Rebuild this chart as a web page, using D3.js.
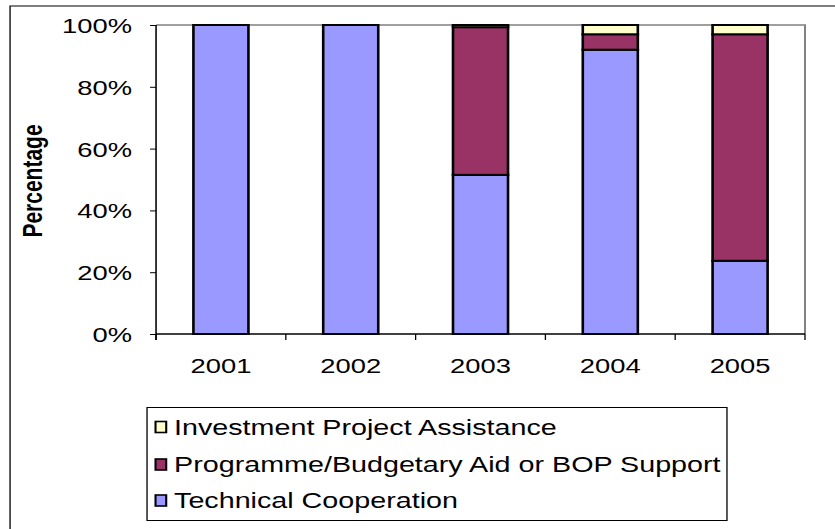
<!DOCTYPE html>
<html>
<head>
<meta charset="utf-8">
<script src="https://cdn.jsdelivr.net/npm/d3@7/dist/d3.min.js"></script>
<style>
  html, body { margin: 0; padding: 0; background: #fff; }
  svg { display: block; font-family: "Liberation Sans", Arial, sans-serif; }
</style>
</head>
<body>
<svg id="chart" width="835" height="529"></svg>
<script>
// Aid modality shares by year (percent of total)
const years = ["2001", "2002", "2003", "2004", "2005"];
const technicalCooperation = [100, 100, 51.5, 92, 23.7];
const programmeAid = [0, 0, 47.8, 5, 73.3];
const investmentProject = [0, 0, 0.7, 3, 3];
const yTicks = [0, 20, 40, 60, 80, 100];

const seriesNames = ["Technical Cooperation", "Programme/Budgetary Aid or BOP Support", "Investment Project Assistance"];
const seriesColors = ["#9999FF", "#993366", "#FFFFCC"];

const rows = years.map((y, i) => ({
  year: y,
  tc: technicalCooperation[i],
  prog: programmeAid[i],
  ipa: investmentProject[i]
}));
const keys = ["tc", "prog", "ipa"];

// The chart is laid out on a 640-wide canvas and stretched to the 835px window
const W = 835, H = 529, baseW = 640, sx = W / baseW;
const svg = d3.select("#chart");
const g = svg.append("g").attr("transform", `scale(${sx},1)`);

// outer chart frame
g.append("rect")
  .attr("x", 7.7).attr("y", 6)
  .attr("width", 700).attr("height", 600)
  .attr("fill", "#fff").attr("stroke", "#000").attr("stroke-width", 1);

const plot = { left: 119.6, right: 617, top: 25, bottom: 334 };

const x = d3.scaleBand()
  .domain(years)
  .range([plot.left, plot.right])
  .paddingInner(0.576)
  .paddingOuter(0.288);

const y = d3.scaleLinear().domain([0, 100]).range([plot.bottom, plot.top]);

// plot area border: top and right in grey
g.append("path")
  .attr("d", `M${plot.left},${plot.top}H${plot.right}V${plot.bottom}`)
  .attr("fill", "none").attr("stroke", "#808080").attr("stroke-width", 1.5);

// stacked bars
const stack = d3.stack().keys(keys)(rows);
g.append("g").selectAll("g")
  .data(stack)
  .join("g")
  .attr("fill", (d, i) => seriesColors[i])
  .selectAll("rect")
  .data(d => d.filter(s => s[1] - s[0] > 0))
  .join("rect")
  .attr("x", d => x(d.data.year))
  .attr("width", x.bandwidth())
  .attr("y", d => y(d[1]))
  .attr("height", d => y(d[0]) - y(d[1]))
  .attr("stroke", "#000")
  .attr("stroke-width", 2);

// y axis
const yAxis = g.append("g")
  .attr("transform", `translate(${plot.left},0)`)
  .call(d3.axisLeft(y).tickValues(yTicks).tickFormat(d => d + "%").tickSize(4.6).tickPadding(13.8));
yAxis.select(".domain").attr("stroke", "#000").attr("stroke-width", 1.2)
  .attr("d", `M0,${plot.top}V${plot.bottom + 6}`);
yAxis.selectAll(".tick line").attr("stroke", "#000").attr("stroke-width", 1);
yAxis.selectAll(".tick text")
  .attr("font-size", 21).attr("fill", "#000")
  .attr("font-family", "Liberation Sans, Arial, sans-serif")
  .attr("dy", "0.36em");

// x axis: line, category boundary ticks, labels
const xg = g.append("g");
xg.append("line")
  .attr("x1", plot.left).attr("x2", plot.right)
  .attr("y1", plot.bottom).attr("y2", plot.bottom)
  .attr("stroke", "#000").attr("stroke-width", 1.5);
const boundaries = years.map(d => x(d) + x.bandwidth() / 2 - x.step() / 2)
  .concat([x(years[years.length - 1]) + x.bandwidth() / 2 + x.step() / 2]);
xg.selectAll("line.tick")
  .data(boundaries)
  .join("line")
  .attr("class", "tick")
  .attr("x1", d => d).attr("x2", d => d)
  .attr("y1", plot.bottom).attr("y2", plot.bottom + 6)
  .attr("stroke", "#000").attr("stroke-width", 1);
xg.selectAll("text")
  .data(years)
  .join("text")
  .attr("x", d => x(d) + x.bandwidth() / 2)
  .attr("y", 373)
  .attr("text-anchor", "middle")
  .attr("font-size", 21)
  .attr("fill", "#000")
  .text(d => d);

// y axis title
g.append("text")
  .attr("transform", `translate(24.5,181) rotate(-90)`)
  .attr("text-anchor", "middle")
  .attr("dy", "0.35em")
  .attr("font-size", 21)
  .attr("font-weight", "bold")
  .attr("fill", "#000")
  .text("Percentage");

// legend
const legend = g.append("g");
legend.append("rect")
  .attr("x", 112.7).attr("y", 407.5)
  .attr("width", 444.5).attr("height", 113)
  .attr("fill", "#fff").attr("stroke", "#000").attr("stroke-width", 1);
const legendItems = [2, 1, 0];
const rowCenters = [427, 464.5, 500.5];
const li = legend.selectAll("g.item")
  .data(legendItems)
  .join("g")
  .attr("class", "item")
  .attr("transform", (d, i) => `translate(0,${rowCenters[i]})`);
li.append("rect")
  .attr("x", 119.2).attr("y", -5.5)
  .attr("width", 8.2).attr("height", 11)
  .attr("fill", d => seriesColors[d])
  .attr("stroke", "#000").attr("stroke-width", 1.6);
li.append("text")
  .attr("x", 133.4).attr("y", 0)
  .attr("dy", "0.36em")
  .attr("font-size", 22)
  .attr("fill", "#000")
  .text(d => seriesNames[d]);
</script>
</body>
</html>
